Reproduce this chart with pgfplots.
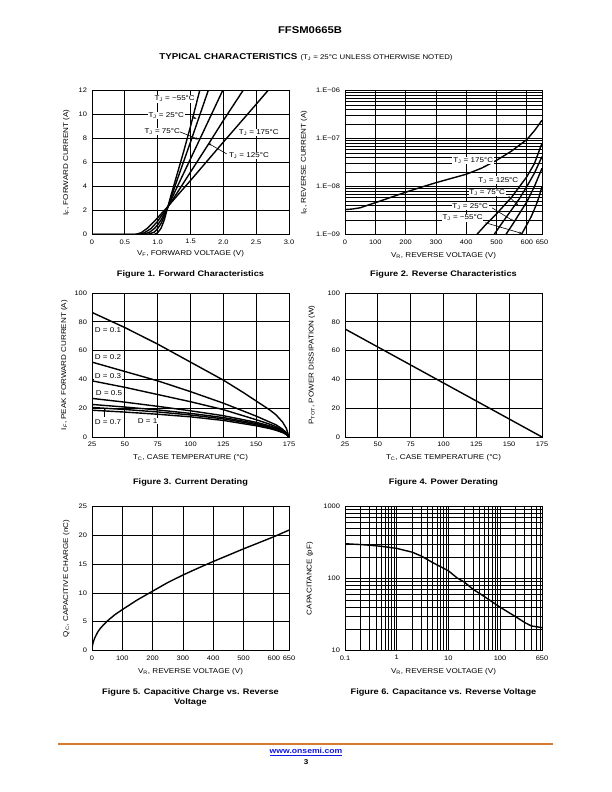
\documentclass[border=0pt]{standalone}
\usepackage{fontspec}
\setmainfont{Liberation Sans}[FakeStretch=1.15]
\usepackage{pgfplots}
\pgfplotsset{compat=1.18}
\usetikzlibrary{arrows.meta}
\definecolor{onorange}{RGB}{214,122,48}
\definecolor{linkblue}{RGB}{20,20,230}
\newcommand\tk{\fontsize{6.5bp}{7bp}\selectfont}
\newcommand\lb{\fontsize{7bp}{8bp}\selectfont}
\newcommand\an{\fontsize{7bp}{8bp}\selectfont}
\newcommand\capf{\fontsize{8bp}{9.5bp}\selectfont\bfseries}
\pgfplotsset{
  ds/.style={
    scale only axis, width=197bp, height=144bp, anchor=south west,
    axis line style={line width=0.9bp, black},
    major grid style={line width=0.7bp, black},
    minor grid style={line width=0.6bp, black},
    major tick length=0pt, minor tick length=0pt,
    tick label style={font=\tk},
    yticklabel style={xshift=-1.5bp},
    xticklabel style={yshift=-1.5bp},
    label style={font=\lb},
    xlabel style={at={(axis description cs:0.5,-0.145)}, anchor=center},
    every axis plot post/.append style={black, solid, line width=1.4bp},
    no marks,
  },
}
\tikzset{
  arr/.style={-{Stealth[length=3bp,width=2.2bp]}, line width=0.6bp},
  lbl/.style={fill=white, inner sep=0.8bp, font=\an},
}
\begin{document}
\begin{tikzpicture}
\fill[white] (0,0) rectangle (612bp,792bp);
\path[use as bounding box] (0,0) rectangle (612bp,792bp);

% Header
\node[font=\fontsize{9.8bp}{11bp}\selectfont\bfseries] at (310bp,762bp) {FFSM0665B};
\node at (306bp,734.7bp) {{\fontsize{8.5bp}{9bp}\selectfont\bfseries TYPICAL CHARACTERISTICS} {\fontsize{6.8bp}{7bp}\selectfont (T\textsubscript{J} = 25°C UNLESS OTHERWISE NOTED)}};

% ---------------- Figure 1 ----------------
\begin{axis}[ds, at={(92bp,557.5bp)},
  xmin=0, xmax=3, ymin=0, ymax=12, grid=major,
  xtick={0,0.5,1,1.5,2,2.5,3}, xticklabels={0,0.5,1.0,1.5,2.0,2.5,3.0},
  ytick={0,2,4,6,8,10,12}, yticklabels={0,2,4,6,8,10,12},
  xlabel={V\textsubscript{F}, FORWARD VOLTAGE (V)},
  ylabel={I\textsubscript{F}, FORWARD CURRENT (A)},
  ylabel style={at={(axis description cs:-0.13,0.5)}, anchor=center},
  xlabel style={at={(axis description cs:0.5,-0.135)}}]
\addplot coordinates {(0,0)(0.95,0)(1.0,0.15)(1.05,0.5)(1.1,1.2)(1.15,2.2)(1.2,3.2)(1.3,5.1)(1.4,7.0)(1.5,9.0)(1.64,12)};
\addplot coordinates {(0,0)(0.85,0)(0.95,0.2)(1.0,0.5)(1.05,0.9)(1.1,1.5)(1.15,2.2)(1.2,3.0)(1.3,4.6)(1.5,7.7)(1.77,12)};
\addplot coordinates {(0,0)(0.78,0)(0.88,0.2)(0.95,0.5)(1.0,0.8)(1.05,1.2)(1.1,1.7)(1.15,2.25)(1.3,4.0)(1.5,6.3)(1.75,9.2)(1.99,12)};
\addplot coordinates {(0,0)(0.72,0)(0.8,0.15)(0.9,0.5)(1.0,1.1)(1.05,1.5)(1.1,1.85)(1.15,2.25)(1.3,3.5)(1.5,5.2)(1.77,7.5)(2.0,9.5)(2.3,12)};
\addplot coordinates {(0,0)(0.66,0)(0.75,0.15)(0.85,0.55)(0.95,1.1)(1.05,1.7)(1.15,2.3)(1.3,3.25)(1.5,4.5)(2.0,7.7)(2.5,10.85)(2.68,12)};
\coordinate (f1a) at (axis cs:1.26,11.3);
\coordinate (f1b) at (axis cs:1.13,9.9);
\coordinate (f1b1) at (axis cs:1.52,9.83);
\coordinate (f1b2) at (axis cs:1.59,9.64);
\coordinate (f1c) at (axis cs:1.07,8.6);
\coordinate (f1c1) at (axis cs:1.34,8.55);
\coordinate (f1c2) at (axis cs:1.62,7.93);
\coordinate (f1d) at (axis cs:2.54,8.5);
\coordinate (f1e) at (axis cs:2.39,6.6);
\coordinate (f1e1) at (axis cs:2.05,6.72);
\coordinate (f1e2) at (axis cs:1.77,7.6);
\end{axis}
\node[lbl] at (f1a) {T\textsubscript{J} = −55°C};
\node[lbl] at (f1b) {T\textsubscript{J} = 25°C};
\draw[arr] (f1b1) -- (f1b2);
\node[lbl] at (f1c) {T\textsubscript{J} = 75°C};
\draw[arr] (f1c1) -- (f1c2);
\node[lbl] at (f1d) {T\textsubscript{J} = 175°C};
\node[lbl] at (f1e) {T\textsubscript{J} = 125°C};
\draw[arr] (f1e1) -- (f1e2);
\node[font=\capf] at (190.5bp,518bp) {Figure 1. Forward Characteristics};

% ---------------- Figure 2 ----------------
\begin{axis}[ds, at={(345bp,557.5bp)}, ymode=log,
  xmin=0, xmax=650, ymin=1e-9, ymax=1e-6, grid=both,
  xtick={0,100,200,300,400,500,600,650}, xticklabels={0,100,200,300,400,500,600,650},
  ytick={1e-9,1e-8,1e-7,1e-6}, yticklabels={1.E−09,1.E−08,1.E−07,1.E−06},
  minor ytick={2e-9,3e-9,4e-9,5e-9,6e-9,7e-9,8e-9,9e-9,2e-8,3e-8,4e-8,5e-8,6e-8,7e-8,8e-8,9e-8,2e-7,3e-7,4e-7,5e-7,6e-7,7e-7,8e-7,9e-7},
  minor xtick={},
  xlabel={V\textsubscript{R}, REVERSE VOLTAGE (V)},
  ylabel={I\textsubscript{R}, REVERSE CURRENT (A)},
  ylabel style={at={(axis description cs:-0.208,0.5)}, anchor=center}]
\addplot coordinates {(0,3.3e-9)(25,3.4e-9)(50,3.6e-9)(100,4.6e-9)(150,5.9e-9)(200,7.6e-9)(250,9.6e-9)(300,1.2e-8)(350,1.47e-8)(400,1.8e-8)(450,2.4e-8)(500,3.5e-8)(550,5.5e-8)(600,9.5e-8)(625,1.45e-7)(650,2.4e-7)};
\addplot coordinates {(435,1e-9)(460,1.5e-9)(500,2.7e-9)(550,6e-9)(600,1.6e-8)(625,3e-8)(650,8e-8)};
\addplot coordinates {(492,1e-9)(520,1.8e-9)(550,3.3e-9)(575,5.5e-9)(600,1.0e-8)(625,1.9e-8)(650,4.2e-8)};
\addplot coordinates {(531,1e-9)(555,1.7e-9)(575,2.7e-9)(600,4.8e-9)(625,1.0e-8)(650,2.4e-8)};
\addplot coordinates {(582,1e-9)(600,1.6e-9)(615,2.4e-9)(630,4e-9)(640,6e-9)(650,1.0e-8)};
\coordinate (f2a) at (axis cs:423,3.5e-8);
\coordinate (f2b) at (axis cs:506,1.36e-8);
\coordinate (f2c) at (axis cs:469,7.45e-9);
\coordinate (f2c1) at (axis cs:540,6.3e-9);
\coordinate (f2c2) at (axis cs:573,3.9e-9);
\coordinate (f2d) at (axis cs:413,3.9e-9);
\coordinate (f2d1) at (axis cs:485,3.6e-9);
\coordinate (f2d2) at (axis cs:556,1.9e-9);
\coordinate (f2e) at (axis cs:388,2.23e-9);
\coordinate (f2e1) at (axis cs:463,1.76e-9);
\coordinate (f2e2) at (axis cs:584,1.05e-9);
\end{axis}
\node[lbl] at (f2a) {T\textsubscript{J} = 175°C};
\node[lbl] at (f2b) {T\textsubscript{J} = 125°C};
\node[lbl] at (f2c) {T\textsubscript{J} = 75°C};
\draw[arr] (f2c1) -- (f2c2);
\node[lbl] at (f2d) {T\textsubscript{J} = 25°C};
\draw[arr] (f2d1) -- (f2d2);
\node[lbl] at (f2e) {T\textsubscript{J} = −55°C};
\draw[arr] (f2e1) -- (f2e2);
\node[font=\capf] at (443.5bp,518bp) {Figure 2. Reverse Characteristics};

% ---------------- Figure 3 ----------------
\begin{axis}[ds, at={(92bp,355bp)},
  xmin=25, xmax=175, ymin=0, ymax=100, grid=major,
  xtick={25,50,75,100,125,150,175}, xticklabels={25,50,75,100,125,150,175},
  ytick={0,20,40,60,80,100}, yticklabels={0,20,40,60,80,100},
  xlabel={T\textsubscript{C}, CASE TEMPERATURE (°C)},
  ylabel={I\textsubscript{F}, PEAK FORWARD CURRENT (A)},
  ylabel style={at={(axis description cs:-0.14,0.5)}, anchor=center}]
\addplot coordinates {(25,86.5)(50,76)(75,64.5)(100,52)(125,39.5)(140,31)(150,25)(160,19)(165,15.5)(170,10.5)(173,6)(175,0)};
\addplot coordinates {(25,52)(50,45.5)(75,39)(100,31.5)(125,23.5)(150,14.5)(160,10.5)(165,8.5)(170,5.5)(173,3)(175,0)};
\addplot coordinates {(25,39)(50,34.5)(75,29.5)(100,24.5)(125,19)(150,12)(160,9)(165,7.2)(170,4.8)(173,2.7)(175,0)};
\addplot coordinates {(25,26.8)(50,24.2)(75,21.3)(100,18.2)(125,14.8)(150,10.2)(160,7.8)(165,6.3)(170,4.2)(173,2.4)(175,0)};
\addplot coordinates {(25,22.6)(50,20.8)(75,18.8)(100,16.4)(125,13.5)(150,9.4)(160,7)(165,5.6)(170,3.7)(173,2.1)(175,0)};
\addplot coordinates {(25,20.5)(50,19.1)(75,17.4)(100,15.3)(125,12.6)(150,8.6)(160,6.5)(165,5.1)(170,3.4)(173,1.9)(175,0)};
\addplot coordinates {(25,18.6)(50,17.3)(75,15.8)(100,14)(125,11.5)(150,7.8)(160,5.9)(165,4.7)(170,3.1)(173,1.7)(175,0)};
\coordinate (f3a) at (axis cs:37.2,74.1);
\coordinate (f3b) at (axis cs:37.2,55.6);
\coordinate (f3c) at (axis cs:37.2,42);
\coordinate (f3d) at (axis cs:38,30.8);
\coordinate (f3e) at (axis cs:37.2,10.3);
\coordinate (f3e1) at (axis cs:34.7,14.2);
\coordinate (f3e2) at (axis cs:34.7,20.2);
\coordinate (f3f) at (axis cs:67.3,11.1);
\end{axis}
\node[lbl] at (f3a) {D = 0.1};
\node[lbl] at (f3b) {D = 0.2};
\node[lbl] at (f3c) {D = 0.3};
\node[lbl] at (f3d) {D = 0.5};
\node[lbl] at (f3e) {D = 0.7};
\draw[arr] (f3e1) -- (f3e2);
\node[lbl] at (f3f) {D = 1};
\node[font=\capf] at (190.5bp,310bp) {Figure 3. Current Derating};

% ---------------- Figure 4 ----------------
\begin{axis}[ds, at={(345bp,355bp)},
  xmin=25, xmax=175, ymin=0, ymax=100, grid=major,
  xtick={25,50,75,100,125,150,175}, xticklabels={25,50,75,100,125,150,175},
  ytick={0,20,40,60,80,100}, yticklabels={0,20,40,60,80,100},
  xlabel={T\textsubscript{C}, CASE TEMPERATURE (°C)},
  ylabel={P\textsubscript{TOT}, POWER DISSIPATION (W)},
  ylabel style={at={(axis description cs:-0.169,0.5)}, anchor=center}]
\addplot coordinates {(25,75)(175,0)};
\end{axis}
\node[font=\capf] at (443.5bp,310bp) {Figure 4. Power Derating};

% ---------------- Figure 5 ----------------
\begin{axis}[ds, at={(92bp,141.5bp)},
  xmin=0, xmax=650, ymin=0, ymax=25, grid=major,
  xtick={0,100,200,300,400,500,600,650}, xticklabels={0,100,200,300,400,500,600,650},
  ytick={0,5,10,15,20,25}, yticklabels={0,5,10,15,20,25},
  xlabel={V\textsubscript{R}, REVERSE VOLTAGE (V)},
  ylabel={Q\textsubscript{C}, CAPACITIVE CHARGE (nC)},
  ylabel style={at={(axis description cs:-0.13,0.5)}, anchor=center}]
\addplot coordinates {(0,0)(1,0.7)(2,1.0)(5,1.6)(10,2.3)(20,3.3)(30,4.0)(50,5.1)(75,6.2)(100,7.1)(150,8.8)(200,10.3)(250,11.8)(300,13.1)(350,14.3)(400,15.45)(450,16.55)(500,17.65)(550,18.7)(600,19.75)(650,20.9)};
\end{axis}
\node[font=\capf, align=center] at (190.5bp,94.5bp) {Figure 5. Capacitive Charge vs. Reverse\\Voltage};

% ---------------- Figure 6 ----------------
\begin{axis}[ds, at={(345bp,141.5bp)}, xmode=log, ymode=log,
  xmin=0.1, xmax=650, ymin=10, ymax=1000, grid=both,
  xtick={0.1,1,10,100,650}, xticklabels={0.1,1,10,100,650},
  minor xtick={0.2,0.3,0.4,0.5,0.6,0.7,0.8,0.9,2,3,4,5,6,7,8,9,20,30,40,50,60,70,80,90,200,300,400,500,600},
  ytick={10,100,1000}, yticklabels={10,100,1000},
  minor ytick={20,30,40,50,60,70,80,90,200,300,400,500,600,700,800,900},
  xlabel={V\textsubscript{R}, REVERSE VOLTAGE (V)},
  ylabel={CAPACITANCE (pF)},
  ylabel style={at={(axis description cs:-0.178,0.5)}, anchor=center}]
\addplot coordinates {(0.1,304)(0.2,296)(0.3,290)(0.5,280)(1,262)(2,232)(3,205)(5,166)(10,128)(15,101)(20,90)(30,71)(50,56)(100,40)(200,29.5)(300,24.5)(400,22)(500,21.4)(650,20.8)};
\end{axis}
\node[font=\capf] at (443.5bp,100bp) {Figure 6. Capacitance vs. Reverse Voltage};

% Footer
\draw[onorange, line width=1.5bp] (58bp,48bp) -- (553bp,48bp);
\node[font=\fontsize{7.5bp}{9bp}\selectfont\bfseries, text=linkblue] at (306bp,40bp) {\underline{www.onsemi.com}};
\node[font=\fontsize{7bp}{8bp}\selectfont\bfseries] at (306bp,30bp) {3};
\end{tikzpicture}
\end{document}
